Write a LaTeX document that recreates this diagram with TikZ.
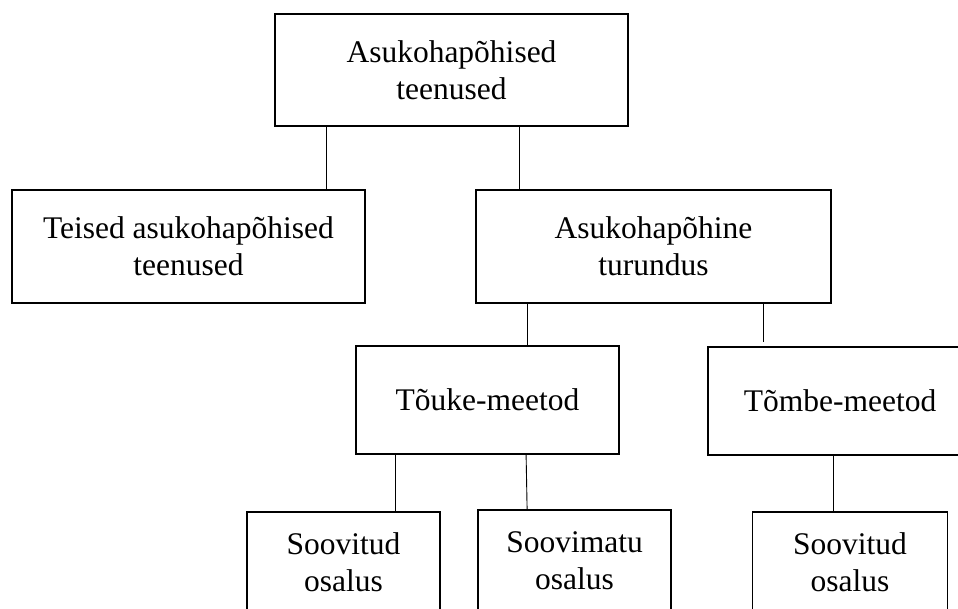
\documentclass[tikz,border=0pt]{standalone}
\usepackage{fontspec}
\setmainfont{Liberation Serif}
\usetikzlibrary{positioning,calc}
\tikzset{
  box/.style={draw=black,line width=1.8pt,fill=white,align=center,inner sep=4pt,minimum height=108pt,font=\fontsize{31.5}{37}\selectfont},
  leafbox/.style={box,minimum width=193pt,minimum height=100pt},
  link/.style={line width=0.9pt,draw=black}
}
\begin{document}
\begin{tikzpicture}[x=1pt,y=-1pt]
  \useasboundingbox (0,0) rectangle (958,608);
  \node[box,minimum width=353pt,minimum height=112pt] (services) at (451.5,70) {Asukohapõhised\\teenused};
  \node[box,minimum width=353pt,minimum height=113pt] (other) at (188.5,246.5) {Teised asukohapõhised\\teenused};
  \node[box,minimum width=355pt,minimum height=113pt] (marketing) at (653.5,246.5) {Asukohapõhine\\turundus};
  \node[box,minimum width=263pt] (push) at (487.5,400) {Tõuke-meetod};
  \node[box,minimum width=264pt] (pull) at (840,401) {Tõmbe-meetod};
  \node[leafbox] (pushwanted) at (343.5,562) {Soovitud\\osalus};
  \node[leafbox,minimum height=102pt] (pushunwanted) at (574.5,561) {Soovimatu\\osalus};
  \node[leafbox,minimum width=195pt] (pullwanted) at (850,562) {Soovitud\\osalus};
  \draw[link] ([xshift=52pt]services.south west) -- ([xshift=52pt]services.south west |- other.north);
  \draw[link] ([xshift=245pt]services.south west) -- ([xshift=245pt]services.south west |- marketing.north);
  \draw[link] ([xshift=52pt]marketing.south west) -- ([xshift=52pt]marketing.south west |- push.north);
  \draw[link,shorten >=4pt] ([xshift=288pt]marketing.south west) -- ([xshift=288pt]marketing.south west |- pull.north);
  \draw[link] ([xshift=40pt]push.south west) -- ([xshift=40pt]push.south west |- pushwanted.north);
  \draw[link] ([xshift=171pt]push.south west) -- ([xshift=172pt]push.south west |- pushunwanted.north);
  \draw[link] ([xshift=126pt]pull.south west) -- ([xshift=126pt]pull.south west |- pullwanted.north);
\end{tikzpicture}
\end{document}
